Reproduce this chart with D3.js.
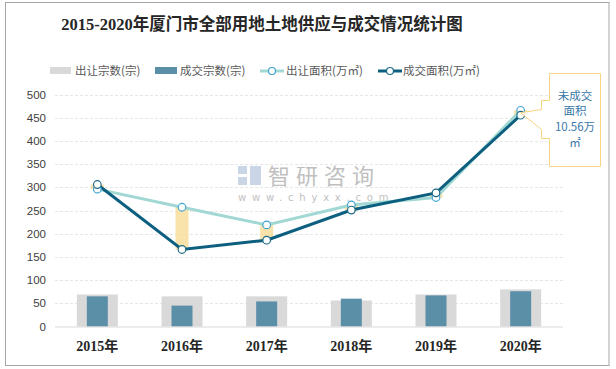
<!DOCTYPE html>
<html><head><meta charset="utf-8">
<script src="https://cdn.jsdelivr.net/npm/d3@7/dist/d3.min.js"></script>
<style>body{margin:0;background:#fff}svg{display:block}</style>
</head><body><svg id="c" width="616" height="369"></svg>
<script>
const years = ["2015年","2016年","2017年","2018年","2019年","2020年"];
const supplyCount = [69, 65, 65, 56, 69, 80];
const dealCount = [65, 45, 54, 60, 67, 76];
const supplyArea = [296, 257, 219, 262, 278, 466];
const dealArea = [306, 166, 186, 251, 288, 455.44];
const yTicks = [0,50,100,150,200,250,300,350,400,450,500];
const noteLines = ["未成交","面积","10.56万","㎡"];
const title = "2015-2020年厦门市全部用地土地供应与成交情况统计图";

const svg = d3.select("#c");
const cjk = "'Noto Sans CJK SC','Noto Sans',sans-serif";
const serif = "'Liberation Serif','Noto Sans CJK SC',serif";

svg.append("rect").attr("x",5.5).attr("y",2.5).attr("width",603.5).attr("height",363)
  .attr("fill","#fff").attr("stroke","#a6a6a6");

svg.append("text").attr("x",262).attr("y",30).attr("text-anchor","middle")
  .attr("font-family",serif).attr("font-weight","bold").attr("font-size",16.5)
  .attr("fill","#262626").text(title);

const x = d3.scaleBand().domain(years).range([55,563]);
const y = d3.scaleLinear().domain([0,500]).range([326.5,94.5]);
const cx = d => x(d) + x.bandwidth()/2;

// grid
svg.append("g").selectAll("line").data(yTicks.filter(t=>t>0)).join("line")
  .attr("x1",55).attr("x2",563).attr("y1",d=>Math.round(y(d))+0.5).attr("y2",d=>Math.round(y(d))+0.5)
  .attr("stroke","#e6e6e6").attr("stroke-dasharray","3,2");

// y axis labels
const ya = svg.append("g").attr("transform","translate(46,0)")
  .call(d3.axisLeft(y).tickValues(yTicks).tickSize(0).tickPadding(0));
ya.select(".domain").remove();
ya.selectAll("text").attr("font-family","'Liberation Sans',sans-serif").attr("font-size",11.5).attr("fill","#404040");

// watermark
const wm = svg.append("g").attr("opacity",0.55);
wm.append("rect").attr("x",238).attr("y",166).attr("width",9).attr("height",8).attr("fill","#9fb4d6");
wm.append("rect").attr("x",238).attr("y",177).attr("width",9).attr("height",8).attr("fill","#9fb4d6");
wm.append("rect").attr("x",250).attr("y",166).attr("width",11).attr("height",19).attr("fill","#9fb4d6");
wm.append("text").attr("x",268).attr("y",184).attr("font-family",cjk).attr("font-size",22)
  .attr("fill","#8c8c8c").attr("letter-spacing",6).text("智研咨询");
wm.append("text").attr("x",238).attr("y",200.5).attr("font-family","'DejaVu Sans',sans-serif").attr("font-size",10)
  .attr("fill","#8c8c8c").attr("letter-spacing",5.8).text("www.chyxx.com");

// bars
svg.append("g").selectAll("rect").data(years).join("rect")
  .attr("x",d=>cx(d)-20.5).attr("width",41)
  .attr("y",(d,i)=>y(supplyCount[i])).attr("height",(d,i)=>y(0)-y(supplyCount[i]))
  .attr("fill","#d9d9d9");
svg.append("g").selectAll("rect").data(years).join("rect")
  .attr("x",d=>cx(d)-10.5).attr("width",21)
  .attr("y",(d,i)=>y(dealCount[i])).attr("height",(d,i)=>y(0)-y(dealCount[i]))
  .attr("fill","#5b8fa8");

// baseline
svg.append("line").attr("x1",55).attr("x2",563).attr("y1",y(0)+0.5).attr("y2",y(0)+0.5)
  .attr("stroke","#d9d9d9");

// x labels
svg.append("g").selectAll("text").data(years).join("text")
  .attr("x",d=>cx(d)).attr("y",351).attr("text-anchor","middle")
  .attr("font-family",serif).attr("font-weight","bold").attr("font-size",14)
  .attr("fill","#262626").text(d=>d);

// up/down bands
svg.append("g").selectAll("rect").data(years).join("rect")
  .attr("x",d=>cx(d)-6.5).attr("width",13)
  .attr("y",(d,i)=>y(Math.max(supplyArea[i],dealArea[i])))
  .attr("height",(d,i)=>Math.abs(y(supplyArea[i])-y(dealArea[i])))
  .attr("fill","#f8dc96").attr("opacity",0.8);

const line = d3.line().x((d,i)=>cx(years[i])).y(d=>y(d));
svg.append("path").attr("d",line(supplyArea)).attr("fill","none").attr("stroke","#a2d8d3").attr("stroke-width",3);
svg.append("path").attr("d",line(dealArea)).attr("fill","none").attr("stroke","#0d5f80").attr("stroke-width",3);

svg.append("g").selectAll("circle").data(supplyArea).join("circle")
  .attr("cx",(d,i)=>cx(years[i])).attr("cy",d=>y(d)).attr("r",3.8)
  .attr("fill","#fff").attr("stroke","#3fa4d4").attr("stroke-width",1.2);
svg.append("g").selectAll("circle").data(dealArea).join("circle")
  .attr("cx",(d,i)=>cx(years[i])).attr("cy",d=>y(d)).attr("r",3.8)
  .attr("fill","#fff").attr("stroke","#1d6a86").attr("stroke-width",1.2);

// legend
const lg = svg.append("g").attr("font-family",cjk).attr("font-size",11.5).attr("fill","#595959");
lg.append("rect").attr("x",50).attr("y",67).attr("width",21).attr("height",7).attr("fill","#d9d9d9");
lg.append("text").attr("x",75).attr("y",75).text("出让宗数(宗)");
lg.append("rect").attr("x",155).attr("y",67).attr("width",22).attr("height",7).attr("fill","#5b8fa8");
lg.append("text").attr("x",180).attr("y",75).text("成交宗数(宗)");
lg.append("line").attr("x1",260).attr("x2",284).attr("y1",71).attr("y2",71).attr("stroke","#a2d8d3").attr("stroke-width",3);
lg.append("circle").attr("cx",272).attr("cy",71).attr("r",3.5).attr("fill","#fff").attr("stroke","#3fa4d4").attr("stroke-width",1.2);
lg.append("text").attr("x",286).attr("y",75).text("出让面积(万㎡)");
lg.append("line").attr("x1",378).attr("x2",402).attr("y1",71).attr("y2",71).attr("stroke","#0d5f80").attr("stroke-width",3);
lg.append("circle").attr("cx",390).attr("cy",71).attr("r",3.5).attr("fill","#fff").attr("stroke","#1d6a86").attr("stroke-width",1.2);
lg.append("text").attr("x",403).attr("y",75).text("成交面积(万㎡)");

// callout
const px = cx(years[5]), py = (y(supplyArea[5])+y(dealArea[5]))/2;
const bx0=549.5, bx1=600.5, by0=73.5, by1=166.5, nx=541.5;
const p = d3.path();
p.moveTo(bx0,by0); p.lineTo(bx1,by0); p.lineTo(bx1,by1); p.lineTo(bx0,by1);
p.lineTo(bx0,138.5); p.lineTo(nx,138.5); p.lineTo(nx,129.5); p.lineTo(px,py);
p.lineTo(nx,109.5); p.lineTo(nx,100.5); p.lineTo(bx0,100.5); p.closePath();
svg.append("path").attr("d",p.toString()).attr("fill","#fff").attr("fill-opacity",0.9)
  .attr("stroke","#fbd47f").attr("stroke-width",1);
svg.append("g").selectAll("text").data(noteLines).join("text")
  .attr("x",575).attr("y",(d,i)=>99.5+i*15.7).attr("text-anchor","middle")
  .attr("font-family",cjk).attr("font-size",11.5).attr("fill","#3a78a8").text(d=>d);
</script></body></html>
